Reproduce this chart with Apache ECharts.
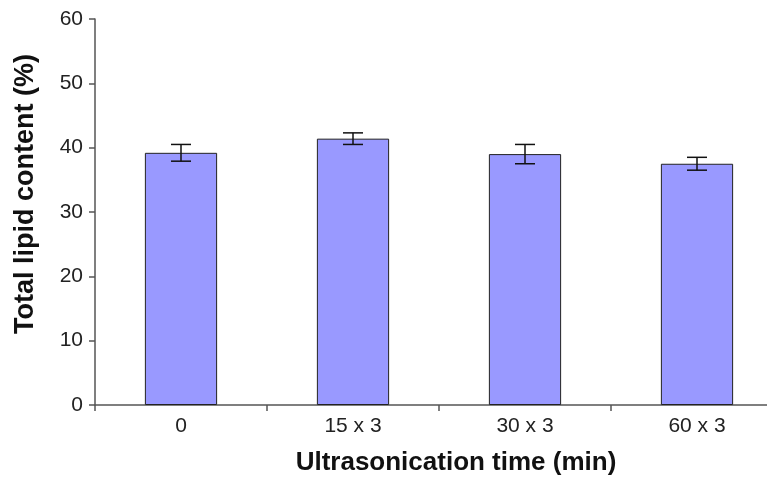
<!DOCTYPE html>
<html>
<head>
<meta charset="utf-8">
<script src="https://cdn.jsdelivr.net/npm/echarts@6/dist/echarts.min.js"></script>
<style>
  html, body { margin: 0; padding: 0; background: #fff; overflow: hidden; }
  #chart { width: 767px; height: 477px; }
</style>
</head>
<body>
<div id="chart"></div>
<script>
var categories = ['0', '15 x 3', '30 x 3', '60 x 3'];
var lipid = [39.2, 41.4, 39.0, 37.5];
var lipidErr = [1.3, 0.9, 1.5, 1.0];

var dom = document.getElementById('chart');
var myChart = echarts.init(dom);

var errData = lipid.map(function (v, i) {
    return [i, v - lipidErr[i], v + lipidErr[i]];
});

var option = {
    backgroundColor: '#fff',
    animation: false,
    // plot area runs past the right edge, as in the original
    grid: {
        left: 95,
        width: 688,
        top: 19,
        height: 386,
        outerBoundsMode: 'none'
    },
    xAxis: {
        type: 'category',
        data: categories,
        name: 'Ultrasonication time (min)',
        nameLocation: 'middle',
        nameGap: 45,
        nameTextStyle: {
            fontFamily: 'Liberation Sans',
            fontWeight: 'bold',
            fontSize: 26,
            color: '#111',
            padding: [0, 0, 0, 34]
        },
        axisLine: { lineStyle: { color: '#555', width: 1.5 } },
        axisTick: { show: true, length: 6, lineStyle: { color: '#555', width: 1.5 } },
        axisLabel: {
            fontFamily: 'Liberation Sans',
            fontSize: 21,
            color: '#222',
            margin: 11
        }
    },
    yAxis: {
        type: 'value',
        min: 0,
        max: 60,
        interval: 10,
        name: 'Total lipid content (%)',
        nameLocation: 'middle',
        nameGap: 56,
        nameTextStyle: {
            fontFamily: 'Liberation Sans',
            fontWeight: 'bold',
            fontSize: 27,
            color: '#111',
            padding: [0, 0, 0, 36]
        },
        splitLine: { show: false },
        axisLine: { show: true, lineStyle: { color: '#555', width: 1.5 } },
        axisTick: { show: true, length: 6, lineStyle: { color: '#555', width: 1.5 } },
        axisLabel: {
            fontFamily: 'Liberation Sans',
            fontSize: 21,
            color: '#222',
            margin: 12
        }
    },
    series: [
        {
            name: 'lipid',
            type: 'bar',
            data: lipid,
            barWidth: '42%',
            itemStyle: {
                color: '#9999ff',
                borderColor: '#222',
                borderWidth: 1
            }
        },
        {
            name: 'error',
            type: 'custom',
            data: errData,
            z: 10,
            renderItem: function (params, api) {
                var x = api.value(0);
                var lo = api.coord([x, api.value(1)]);
                var hi = api.coord([x, api.value(2)]);
                var half = 10;
                var style = { stroke: '#111', lineWidth: 1.5 };
                return {
                    type: 'group',
                    children: [
                        { type: 'line', shape: { x1: hi[0], y1: hi[1], x2: lo[0], y2: lo[1] }, style: style },
                        { type: 'line', shape: { x1: hi[0] - half, y1: hi[1], x2: hi[0] + half, y2: hi[1] }, style: style },
                        { type: 'line', shape: { x1: lo[0] - half, y1: lo[1], x2: lo[0] + half, y2: lo[1] }, style: style }
                    ]
                };
            }
        }
    ]
};

if (option && typeof option === 'object') {
    myChart.setOption(option, true);
}
</script>
</body>
</html>
